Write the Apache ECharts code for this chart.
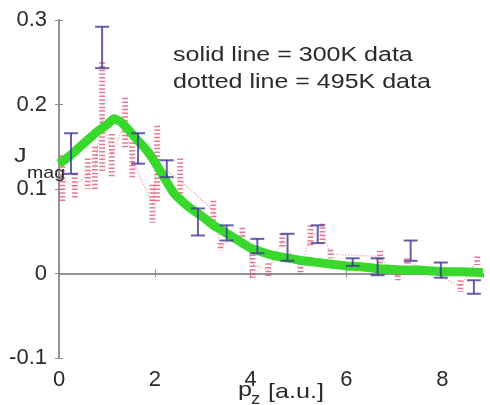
<!DOCTYPE html>
<html>
<head>
<meta charset="utf-8">
<script src="https://cdn.jsdelivr.net/npm/echarts@6/dist/echarts.min.js"></script>
<style>
html,body{margin:0;padding:0;background:#fff;}
#chart{width:490px;height:405px;}
</style>
</head>
<body>
<div id="chart"></div>
<script>
// 300K data (solid green line)
var greenX = [0, 0.2, 0.4, 0.6, 0.8, 1.0, 1.15, 1.3, 1.45, 1.6, 1.8, 2.0, 2.2, 2.4, 2.6, 2.8, 3.0, 3.2, 3.4, 3.6, 3.8, 4.0, 4.2, 4.5, 4.8, 5.1, 5.4, 5.7, 6.0, 6.3, 6.6, 6.9, 7.2, 7.5, 7.8, 8.1, 8.4, 8.85];
var greenY = [0.130, 0.138, 0.148, 0.158, 0.168, 0.176, 0.183, 0.179, 0.170, 0.160, 0.148, 0.132, 0.113, 0.095, 0.084, 0.075, 0.067, 0.058, 0.051, 0.044, 0.037, 0.030, 0.026, 0.021, 0.018, 0.015, 0.013, 0.011, 0.009, 0.008, 0.006, 0.005, 0.004, 0.004, 0.003, 0.002, 0.002, 0.001];

// blue error bars
var blueX = [0.25, 0.9, 1.65, 2.25, 2.9, 3.5, 4.14, 4.77, 5.4, 6.13, 6.65, 7.34, 7.97, 8.66];
var blueLow = [0.118, 0.243, 0.130, 0.114, 0.045, 0.039, 0.024, 0.015, 0.036, 0.009, -0.002, 0.015, -0.005, -0.024];
var blueHigh = [0.166, 0.292, 0.166, 0.134, 0.077, 0.057, 0.041, 0.047, 0.057, 0.018, 0.018, 0.039, 0.013, -0.008];

// 495K data (dotted red)
var redX = [0.07, 0.33, 0.6, 0.75, 0.9, 1.1, 1.38, 1.53, 1.95, 2.05, 2.53, 3.22, 3.37, 3.83, 4.04, 4.37, 4.66, 5.04, 5.25, 5.5, 5.67, 6.7, 7.07, 7.27, 8.38, 8.73];
var redY = [0.112, 0.103, 0.118, 0.125, 0.185, 0.140, 0.178, 0.134, 0.083, 0.130, 0.110, 0.075, 0.032, 0.048, 0.011, 0.004, 0.039, 0.006, 0.045, 0.047, 0.023, 0.020, -0.005, 0.014, -0.015, 0.015];
var redLow = [0.084, 0.088, 0.100, 0.100, 0.120, 0.115, 0.148, 0.113, 0.060, 0.085, 0.085, 0.063, 0.027, 0.043, -0.005, -0.005, 0.031, 0.000, 0.033, 0.036, 0.018, 0.012, -0.008, 0.010, -0.022, 0.010];
var redHigh = [0.140, 0.118, 0.136, 0.150, 0.250, 0.165, 0.208, 0.155, 0.105, 0.175, 0.136, 0.086, 0.036, 0.054, 0.027, 0.012, 0.047, 0.012, 0.057, 0.059, 0.028, 0.027, -0.002, 0.018, -0.008, 0.020];

var yLabels = ['-0.1', '0', '0.1', '0.2', '0.3'];

var greenData = greenX.map(function(x, i){ return [x, greenY[i]]; });
var redLine = redX.map(function(x, i){ return [x, redY[i]]; });
var blueBars = blueX.map(function(x, i){ return [x, blueLow[i], blueHigh[i]]; });
var redBars = redX.map(function(x, i){ return [x, redLow[i], redHigh[i]]; });

function errBar(color, width, dash, cap, opacity){
  return function(params, api){
    var x = api.value(0);
    var top = api.coord([x, api.value(2)]);
    var bot = api.coord([x, api.value(1)]);
    var st = {stroke: color, lineWidth: width, lineDash: dash, opacity: opacity};
    var kids = [{type:'line', shape:{x1:top[0], y1:top[1], x2:bot[0], y2:bot[1]}, style: st}];
    if(cap){
      kids.push({type:'line', shape:{x1:top[0]-cap, y1:top[1], x2:top[0]+cap, y2:top[1]}, style:{stroke:color, lineWidth:2, opacity:opacity}});
      kids.push({type:'line', shape:{x1:bot[0]-cap, y1:bot[1], x2:bot[0]+cap, y2:bot[1]}, style:{stroke:color, lineWidth:2, opacity:opacity}});
    }
    return {type:'group', children: kids};
  };
}

var axisGray = '#8c8c8c';
var lblFont = 'Liberation Sans, Arial, sans-serif';

var chart = echarts.init(document.getElementById('chart'));
chart.setOption({
  animation: false,
  backgroundColor: '#fff',
  grid: {left: 59, right: 7, top: 20, bottom: 47},
  xAxis: [{
    type: 'value', min: 0, max: 8.85, interval: 2,
    axisLine: {lineStyle: {color: axisGray, width: 1.5}},
    axisTick: {inside: true, length: 4, lineStyle: {color: axisGray}},
    axisLabel: {showMaxLabel: false, margin: 11, fontSize: 22, color: '#2a2a2a', fontFamily: lblFont},
    splitLine: {show: false}
  }, {
    type: 'value', position: 'top', min: 0, max: 8.85, interval: 2,
    axisLine: {show: true, lineStyle: {color: axisGray, width: 1.5}},
    axisTick: {inside: true, length: 4, lineStyle: {color: axisGray}},
    axisLabel: {show: false}, splitLine: {show: false}
  }],
  yAxis: [{
    type: 'value', min: -0.1, max: 0.3, interval: 0.1,
    axisLine: {show: true, lineStyle: {color: axisGray, width: 1.5}},
    axisTick: {show: true, inside: true, length: 4, lineStyle: {color: axisGray}},
    axisLabel: {margin: 12, fontSize: 22, color: '#2a2a2a', fontFamily: lblFont,
      formatter: function(v){ return yLabels[Math.round((v + 0.1) * 10)]; }},
    splitLine: {show: false}
  }, {
    type: 'value', position: 'right', min: -0.1, max: 0.3, interval: 0.1,
    axisLine: {show: true, lineStyle: {color: axisGray, width: 1.5}},
    axisTick: {show: true, inside: true, length: 4, lineStyle: {color: axisGray}},
    axisLabel: {show: false}, splitLine: {show: false}
  }],
  series: [{
    name: '495K bars', type: 'custom', z: 2,
    renderItem: errBar('#dd4f6e', 6, [1.5, 2.2], 0, 0.75),
    encode: {x: 0, y: [1, 2]}, data: redBars
  }, {
    name: '495K', type: 'line', z: 2, data: redLine, showSymbol: false,
    lineStyle: {color: '#dd4f6e', width: 1.5, type: 'dotted', opacity: 0.4}
  }, {
    name: '300K', type: 'line', z: 3, data: greenData, showSymbol: false, smooth: 0.2,
    lineStyle: {color: '#38d82c', width: 9}
  }, {
    name: '300K bars', type: 'custom', z: 4,
    renderItem: errBar('#3f3a92', 2, null, 7, 0.8),
    encode: {x: 0, y: [1, 2]}, data: blueBars
  }],
  graphic: [
    {type: 'text', x: 173, y: 55, scaleX: 1.25, z: 10,
      style: {text: 'solid line = 300K data', font: '20px ' + lblFont, fill: '#2a2a2a', textVerticalAlign: 'middle'}},
    {type: 'text', x: 173, y: 82, scaleX: 1.25, z: 10,
      style: {text: 'dotted line = 495K data', font: '20px ' + lblFont, fill: '#2a2a2a', textVerticalAlign: 'middle'}},
    {type: 'text', x: 14, y: 156, scaleX: 1.2, z: 10,
      style: {text: 'J', font: '21px ' + lblFont, fill: '#2a2a2a', textVerticalAlign: 'middle'}},
    {type: 'text', x: 27, y: 173, scaleX: 1.15, z: 10,
      style: {text: 'mag', font: '17px ' + lblFont, fill: '#2a2a2a', textVerticalAlign: 'middle'}},
    {type: 'text', x: 238, y: 390, scaleX: 1.2, z: 10,
      style: {text: 'p', font: '21px ' + lblFont, fill: '#2a2a2a', textVerticalAlign: 'middle'}},
    {type: 'text', x: 251, y: 400, scaleX: 1.15, z: 10,
      style: {text: 'z', font: '16px ' + lblFont, fill: '#2a2a2a', textVerticalAlign: 'middle'}},
    {type: 'text', x: 268, y: 392, scaleX: 1.2, z: 10,
      style: {text: '[a.u.]', font: '21px ' + lblFont, fill: '#2a2a2a', textVerticalAlign: 'middle'}}
  ]
});
</script>
</body>
</html>
